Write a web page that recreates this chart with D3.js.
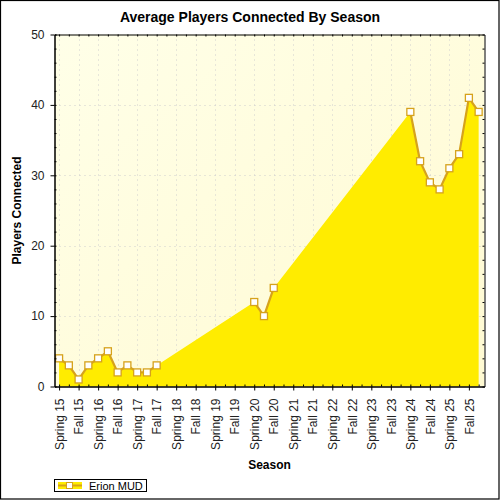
<!DOCTYPE html>
<html>
<head>
<meta charset="utf-8">
<script src="https://cdn.jsdelivr.net/npm/d3@7"></script>
<style>
  html, body { margin: 0; padding: 0; background: #fff; }
  svg { display: block; }
</style>
</head>
<body>
<div id="chart"></div>
<script>
// Season labels on the x axis (one every two periods)
const seasonLabels = [
  'Spring 15', 'Fall 15', 'Spring 16', 'Fall 16', 'Spring 17', 'Fall 17',
  'Spring 18', 'Fall 18', 'Spring 19', 'Fall 19', 'Spring 20', 'Fall 20',
  'Spring 21', 'Fall 21', 'Spring 22', 'Fall 22', 'Spring 23', 'Fall 23',
  'Spring 24', 'Fall 24', 'Spring 25', 'Fall 25'
];

// Measured periods (half-season steps from Spring 15) and average players
const periods = [0, 1, 2, 3, 4, 5, 6, 7, 8, 9, 10, 20, 21, 22, 36, 37, 38, 39, 40, 41, 42, 43];
const players = [4, 3, 1, 3, 4, 5, 2, 3, 2, 2, 3, 12, 10, 14, 39, 32, 29, 28, 31, 33, 41, 39];

const yTicks = [0, 10, 20, 30, 40, 50];
const seriesName = 'Erion MUD';

const width = 500;
const height = 500;
const plotLeft = 54.5;
const plotRight = 484.5;
const plotTop = 34.5;
const plotBottom = 386.5;

const lineColor = '#D6A21C';
const areaColor = '#FFEC00';
const gridColor = '#CFCFCF';
const font = "'Liberation Sans', Arial, sans-serif";

const data = periods.map((p, i) => ({ period: p, value: players[i] }));

const svg = d3.select('#chart')
  .append('svg')
  .attr('width', width)
  .attr('height', height)
  .attr('viewBox', [0, 0, width, height]);

// Chart border
svg.append('rect')
  .attr('x', 0.5).attr('y', 0.5)
  .attr('width', width - 1.5).attr('height', height - 1.5)
  .attr('fill', '#fff')
  .attr('stroke', '#000')
  .attr('stroke-width', 1.2);

// Scales
const x = d3.scaleLinear()
  .domain([-0.47, 43.6])
  .range([plotLeft, plotRight]);

const y = d3.scaleLinear()
  .domain([0, 50])
  .range([plotBottom, plotTop]);

// Plot background gradient
const defs = svg.append('defs');
const bg = defs.append('linearGradient')
  .attr('id', 'plotBg')
  .attr('x1', 0).attr('y1', 0).attr('x2', 1).attr('y2', 1);
bg.append('stop').attr('offset', '0%').attr('stop-color', '#FFFFE8');
bg.append('stop').attr('offset', '100%').attr('stop-color', '#FFFAD2');

svg.append('rect')
  .attr('x', plotLeft).attr('y', plotTop)
  .attr('width', plotRight - plotLeft).attr('height', plotBottom - plotTop)
  .attr('fill', 'url(#plotBg)');

// Grid lines (dotted)
const majorPeriods = seasonLabels.map((d, i) => i * 2);
const allPeriods = d3.range(0, 44);

svg.append('g')
  .selectAll('line')
  .data(majorPeriods)
  .join('line')
  .attr('x1', d => Math.round(x(d)) + 0.5)
  .attr('x2', d => Math.round(x(d)) + 0.5)
  .attr('y1', plotTop)
  .attr('y2', plotBottom)
  .attr('stroke', gridColor)
  .attr('stroke-dasharray', '1,4');

svg.append('g')
  .selectAll('line')
  .data(yTicks.slice(1, -1))
  .join('line')
  .attr('x1', plotLeft)
  .attr('x2', plotRight)
  .attr('y1', d => Math.round(y(d)) + 0.5)
  .attr('y2', d => Math.round(y(d)) + 0.5)
  .attr('stroke', gridColor)
  .attr('stroke-dasharray', '1,4');

// Area (continuous over the gaps)
const area = d3.area()
  .x(d => x(d.period))
  .y0(y(0))
  .y1(d => y(d.value));

svg.append('path')
  .datum(data)
  .attr('d', area)
  .attr('fill', areaColor);

// Line (broken where periods are missing)
const runs = [];
data.forEach((d, i) => {
  if (i === 0 || d.period - data[i - 1].period > 1) runs.push([]);
  runs[runs.length - 1].push(d);
});

const line = d3.line()
  .x(d => x(d.period))
  .y(d => y(d.value));

svg.append('g')
  .selectAll('path')
  .data(runs)
  .join('path')
  .attr('d', line)
  .attr('fill', 'none')
  .attr('stroke', lineColor)
  .attr('stroke-width', 2.2)
  .attr('stroke-linejoin', 'round');

// Markers
svg.append('g')
  .selectAll('rect')
  .data(data)
  .join('rect')
  .attr('x', d => x(d.period) - 3.5)
  .attr('y', d => y(d.value) - 3.5)
  .attr('width', 7)
  .attr('height', 7)
  .attr('fill', '#fff')
  .attr('stroke', lineColor)
  .attr('stroke-width', 1.3);

// Axes
function styleAxis(g) {
  g.select('.domain').attr('stroke', '#000');
  g.selectAll('.tick line').attr('stroke', '#000');
  g.selectAll('text')
    .style('font-family', font)
    .style('font-size', '12px')
    .style('fill', '#222');
}

// Left axis: major ticks out, minor ticks in
svg.append('g')
  .attr('transform', `translate(${plotLeft},0)`)
  .call(d3.axisLeft(y).tickValues(d3.range(0, 51, 2)).tickSize(-2).tickFormat(''))
  .call(styleAxis);

svg.append('g')
  .attr('transform', `translate(${plotLeft},0)`)
  .call(d3.axisLeft(y).tickValues(yTicks).tickSizeInner(4).tickSizeOuter(0).tickPadding(6))
  .call(styleAxis);

// Right axis: minor ticks in
svg.append('g')
  .attr('transform', `translate(${plotRight},0)`)
  .call(d3.axisRight(y).tickValues(d3.range(0, 51, 2)).tickSize(-2).tickFormat('').tickSizeOuter(0))
  .call(styleAxis);

// Top axis: ticks in at every period
svg.append('g')
  .attr('transform', `translate(0,${plotTop})`)
  .call(d3.axisTop(x).tickValues(allPeriods).tickSize(-2).tickFormat('').tickSizeOuter(0))
  .call(styleAxis);

// Bottom axis: minor ticks in, season ticks out with rotated labels
svg.append('g')
  .attr('transform', `translate(0,${plotBottom})`)
  .call(d3.axisBottom(x).tickValues(allPeriods).tickSize(-2).tickFormat('').tickSizeOuter(0))
  .call(styleAxis);

const xAxis = svg.append('g')
  .attr('transform', `translate(0,${plotBottom})`)
  .call(d3.axisBottom(x)
    .tickValues(majorPeriods)
    .tickFormat((d, i) => seasonLabels[i])
    .tickSizeInner(4)
    .tickSizeOuter(0))
  .call(styleAxis);

xAxis.selectAll('text')
  .attr('transform', 'rotate(-90)')
  .attr('x', -12)
  .attr('y', 0)
  .attr('dy', '0.35em')
  .style('text-anchor', 'end');

// Title
svg.append('text')
  .attr('x', 250)
  .attr('y', 22)
  .attr('text-anchor', 'middle')
  .style('font-family', font)
  .style('font-size', '14px')
  .style('font-weight', 'bold')
  .style('fill', '#000')
  .text('Average Players Connected By Season');

// Axis labels
svg.append('text')
  .attr('x', (plotLeft + plotRight) / 2)
  .attr('y', 469)
  .attr('text-anchor', 'middle')
  .style('font-family', font)
  .style('font-size', '12px')
  .style('font-weight', 'bold')
  .style('fill', '#000')
  .text('Season');

svg.append('text')
  .attr('transform', `translate(21,${(plotTop + plotBottom) / 2}) rotate(-90)`)
  .attr('text-anchor', 'middle')
  .style('font-family', font)
  .style('font-size', '12px')
  .style('font-weight', 'bold')
  .style('fill', '#000')
  .text('Players Connected');

// Legend
const legend = svg.append('g');

legend.append('rect')
  .attr('x', 54.5).attr('y', 479.5)
  .attr('width', 92).attr('height', 12)
  .attr('fill', '#fff')
  .attr('stroke', '#000');

legend.append('rect')
  .attr('x', 58).attr('y', 482)
  .attr('width', 24).attr('height', 7)
  .attr('fill', areaColor);

legend.append('line')
  .attr('x1', 58).attr('x2', 82)
  .attr('y1', 485.5).attr('y2', 485.5)
  .attr('stroke', lineColor)
  .attr('stroke-width', 2);

legend.append('rect')
  .attr('x', 66.5).attr('y', 482.5)
  .attr('width', 6).attr('height', 6)
  .attr('fill', '#fff')
  .attr('stroke', lineColor);

legend.append('text')
  .attr('x', 89)
  .attr('y', 489.5)
  .style('font-family', font)
  .style('font-size', '11px')
  .style('fill', '#000')
  .text(seriesName);
</script>
</body>
</html>
